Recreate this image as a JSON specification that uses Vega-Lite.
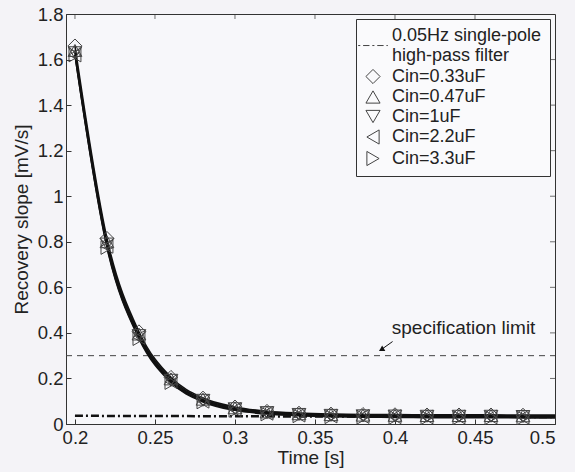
{
  "$schema": "https://vega.github.io/schema/vega-lite/v6.json",
  "width": 489,
  "height": 410,
  "autosize": "none",
  "padding": {"left": 66, "top": 14, "right": 20, "bottom": 48},
  "background": "#f4f3f7",
  "config": {
    "view": {"stroke": "#333", "strokeWidth": 1, "fill": "#f7f7fa"},
    "font": "Liberation Sans",
    "axis": {
      "labelFont": "Liberation Sans",
      "titleFont": "Liberation Sans",
      "labelFontSize": 18.5,
      "titleFontSize": 19,
      "titleFontWeight": "normal",
      "labelColor": "#222",
      "titleColor": "#222",
      "grid": false,
      "domainColor": "#333",
      "tickColor": "#333",
      "tickSize": -5
    }
  },
  "datasets": {
    "curves": [
      {"t": 0.20, "s": 1.66, "c": "Cin=0.33uF"}, {"t": 0.22, "s": 0.815, "c": "Cin=0.33uF"}, {"t": 0.24, "s": 0.405, "c": "Cin=0.33uF"}, {"t": 0.26, "s": 0.205, "c": "Cin=0.33uF"}, {"t": 0.28, "s": 0.114, "c": "Cin=0.33uF"}, {"t": 0.30, "s": 0.075, "c": "Cin=0.33uF"}, {"t": 0.32, "s": 0.056, "c": "Cin=0.33uF"}, {"t": 0.34, "s": 0.048, "c": "Cin=0.33uF"}, {"t": 0.36, "s": 0.044, "c": "Cin=0.33uF"}, {"t": 0.38, "s": 0.042, "c": "Cin=0.33uF"}, {"t": 0.40, "s": 0.041, "c": "Cin=0.33uF"}, {"t": 0.42, "s": 0.040, "c": "Cin=0.33uF"}, {"t": 0.44, "s": 0.040, "c": "Cin=0.33uF"}, {"t": 0.46, "s": 0.040, "c": "Cin=0.33uF"}, {"t": 0.48, "s": 0.039, "c": "Cin=0.33uF"}, {"t": 0.50, "s": 0.039, "c": "Cin=0.33uF"},
      {"t": 0.20, "s": 1.64, "c": "Cin=0.47uF"}, {"t": 0.22, "s": 0.80, "c": "Cin=0.47uF"}, {"t": 0.24, "s": 0.395, "c": "Cin=0.47uF"}, {"t": 0.26, "s": 0.198, "c": "Cin=0.47uF"}, {"t": 0.28, "s": 0.109, "c": "Cin=0.47uF"}, {"t": 0.30, "s": 0.071, "c": "Cin=0.47uF"}, {"t": 0.32, "s": 0.053, "c": "Cin=0.47uF"}, {"t": 0.34, "s": 0.045, "c": "Cin=0.47uF"}, {"t": 0.36, "s": 0.041, "c": "Cin=0.47uF"}, {"t": 0.38, "s": 0.039, "c": "Cin=0.47uF"}, {"t": 0.40, "s": 0.038, "c": "Cin=0.47uF"}, {"t": 0.42, "s": 0.037, "c": "Cin=0.47uF"}, {"t": 0.44, "s": 0.037, "c": "Cin=0.47uF"}, {"t": 0.46, "s": 0.037, "c": "Cin=0.47uF"}, {"t": 0.48, "s": 0.036, "c": "Cin=0.47uF"}, {"t": 0.50, "s": 0.036, "c": "Cin=0.47uF"},
      {"t": 0.20, "s": 1.63, "c": "Cin=1uF"}, {"t": 0.22, "s": 0.79, "c": "Cin=1uF"}, {"t": 0.24, "s": 0.388, "c": "Cin=1uF"}, {"t": 0.26, "s": 0.192, "c": "Cin=1uF"}, {"t": 0.28, "s": 0.104, "c": "Cin=1uF"}, {"t": 0.30, "s": 0.067, "c": "Cin=1uF"}, {"t": 0.32, "s": 0.050, "c": "Cin=1uF"}, {"t": 0.34, "s": 0.042, "c": "Cin=1uF"}, {"t": 0.36, "s": 0.038, "c": "Cin=1uF"}, {"t": 0.38, "s": 0.036, "c": "Cin=1uF"}, {"t": 0.40, "s": 0.035, "c": "Cin=1uF"}, {"t": 0.42, "s": 0.034, "c": "Cin=1uF"}, {"t": 0.44, "s": 0.034, "c": "Cin=1uF"}, {"t": 0.46, "s": 0.034, "c": "Cin=1uF"}, {"t": 0.48, "s": 0.033, "c": "Cin=1uF"}, {"t": 0.50, "s": 0.033, "c": "Cin=1uF"},
      {"t": 0.20, "s": 1.62, "c": "Cin=2.2uF"}, {"t": 0.22, "s": 0.78, "c": "Cin=2.2uF"}, {"t": 0.24, "s": 0.38, "c": "Cin=2.2uF"}, {"t": 0.26, "s": 0.186, "c": "Cin=2.2uF"}, {"t": 0.28, "s": 0.100, "c": "Cin=2.2uF"}, {"t": 0.30, "s": 0.063, "c": "Cin=2.2uF"}, {"t": 0.32, "s": 0.047, "c": "Cin=2.2uF"}, {"t": 0.34, "s": 0.039, "c": "Cin=2.2uF"}, {"t": 0.36, "s": 0.035, "c": "Cin=2.2uF"}, {"t": 0.38, "s": 0.033, "c": "Cin=2.2uF"}, {"t": 0.40, "s": 0.032, "c": "Cin=2.2uF"}, {"t": 0.42, "s": 0.031, "c": "Cin=2.2uF"}, {"t": 0.44, "s": 0.031, "c": "Cin=2.2uF"}, {"t": 0.46, "s": 0.031, "c": "Cin=2.2uF"}, {"t": 0.48, "s": 0.030, "c": "Cin=2.2uF"}, {"t": 0.50, "s": 0.030, "c": "Cin=2.2uF"},
      {"t": 0.20, "s": 1.62, "c": "Cin=3.3uF"}, {"t": 0.22, "s": 0.775, "c": "Cin=3.3uF"}, {"t": 0.24, "s": 0.375, "c": "Cin=3.3uF"}, {"t": 0.26, "s": 0.182, "c": "Cin=3.3uF"}, {"t": 0.28, "s": 0.097, "c": "Cin=3.3uF"}, {"t": 0.30, "s": 0.060, "c": "Cin=3.3uF"}, {"t": 0.32, "s": 0.044, "c": "Cin=3.3uF"}, {"t": 0.34, "s": 0.036, "c": "Cin=3.3uF"}, {"t": 0.36, "s": 0.032, "c": "Cin=3.3uF"}, {"t": 0.38, "s": 0.030, "c": "Cin=3.3uF"}, {"t": 0.40, "s": 0.029, "c": "Cin=3.3uF"}, {"t": 0.42, "s": 0.028, "c": "Cin=3.3uF"}, {"t": 0.44, "s": 0.028, "c": "Cin=3.3uF"}, {"t": 0.46, "s": 0.028, "c": "Cin=3.3uF"}, {"t": 0.48, "s": 0.027, "c": "Cin=3.3uF"}, {"t": 0.50, "s": 0.027, "c": "Cin=3.3uF"}
    ],
    "filter": [{"t": 0.2, "s": 0.036}, {"t": 0.35, "s": 0.033}, {"t": 0.5, "s": 0.031}],
    "limit": [{"t1": 0.1944, "t2": 0.5, "s": 0.3}],
    "note": [{"t": 0.398, "s": 0.42, "label": "specification limit"}],
    "arrow": [{"t1": 0.3985, "s1": 0.362, "t2": 0.3915, "s2": 0.327}],
    "xticks": [{"t": 0.2, "s": 1.8}, {"t": 0.25, "s": 1.8}, {"t": 0.3, "s": 1.8}, {"t": 0.35, "s": 1.8}, {"t": 0.4, "s": 1.8}, {"t": 0.45, "s": 1.8}],
    "yticks": [{"t": 0.5, "s": 0.2}, {"t": 0.5, "s": 0.4}, {"t": 0.5, "s": 0.6}, {"t": 0.5, "s": 0.8}, {"t": 0.5, "s": 1.0}, {"t": 0.5, "s": 1.2}, {"t": 0.5, "s": 1.4}, {"t": 0.5, "s": 1.6}]
  },
  "layer": [
    {
      "data": {"name": "limit"},
      "mark": {"type": "rule", "color": "#444", "strokeWidth": 1, "strokeDash": [6, 5]},
      "encoding": {
        "x": {"field": "t1", "type": "quantitative", "scale": {"domain": [0.1944, 0.5], "nice": false, "zero": false},
              "axis": {"values": [0.2, 0.25, 0.3, 0.35, 0.4, 0.45, 0.5], "format": "~g", "title": "Time [s]", "labelPadding": 9, "titlePadding": 2}},
        "x2": {"field": "t2"},
        "y": {"field": "s", "type": "quantitative", "scale": {"domain": [0, 1.8], "nice": false},
              "axis": {"values": [0, 0.2, 0.4, 0.6, 0.8, 1, 1.2, 1.4, 1.6, 1.8], "format": "~g", "title": "Recovery slope [mV/s]", "labelPadding": 8, "titlePadding": 6}}
      }
    },
    {
      "data": {"name": "xticks"},
      "mark": {"type": "tick", "orient": "vertical", "color": "#333", "size": 5, "thickness": 1, "yOffset": 2.5},
      "encoding": {
        "x": {"field": "t", "type": "quantitative"},
        "y": {"field": "s", "type": "quantitative"}
      }
    },
    {
      "data": {"name": "yticks"},
      "mark": {"type": "tick", "orient": "horizontal", "color": "#333", "size": 5, "thickness": 1, "xOffset": -2.5},
      "encoding": {
        "x": {"field": "t", "type": "quantitative"},
        "y": {"field": "s", "type": "quantitative"}
      }
    },
    {
      "data": {"name": "filter"},
      "mark": {"type": "line", "color": "#111", "strokeWidth": 2.5, "strokeDash": [8, 3, 2, 3]},
      "encoding": {
        "x": {"field": "t", "type": "quantitative"},
        "y": {"field": "s", "type": "quantitative"}
      }
    },
    {
      "data": {"name": "curves"},
      "mark": {"type": "line", "color": "#111", "strokeWidth": 1.6, "interpolate": "monotone"},
      "encoding": {
        "x": {"field": "t", "type": "quantitative"},
        "y": {"field": "s", "type": "quantitative"},
        "detail": {"field": "c"}
      }
    },
    {
      "data": {"name": "curves"},
      "transform": [{"filter": "datum.t < 0.49"}],
      "mark": {"type": "point", "filled": false, "color": "#444", "strokeWidth": 1, "size": 190, "opacity": 1},
      "encoding": {
        "x": {"field": "t", "type": "quantitative"},
        "y": {"field": "s", "type": "quantitative"},
        "shape": {
          "field": "c", "type": "nominal",
          "scale": {
            "domain": ["filter", "Cin=0.33uF", "Cin=0.47uF", "Cin=1uF", "Cin=2.2uF", "Cin=3.3uF"],
            "range": ["M-2.1,1.35H-1.8M-1.4,1.35H-0.5M-0.1,1.35H0.2M0.6,1.35H1.5M1.9,1.35H2.1", "diamond", "triangle-up", "triangle-down", "triangle-left", "triangle-right"]
          },
          "legend": {
            "title": null,
            "orient": "top-right",
            "offset": 5,
            "strokeColor": "#333",
            "fillColor": "#fafafc",
            "padding": 8,
            "labelFont": "Liberation Sans",
            "labelFontSize": 18,
            "labelColor": "#222",
            "symbolSize": 200,
            "symbolStrokeColor": "#444",
            "symbolStrokeWidth": 1,
            "symbolFillColor": "transparent",
            "rowPadding": 1.5,
            "labelOffset": 10,
            "labelExpr": "datum.value == 'filter' ? ['0.05Hz single-pole', 'high-pass filter'] : datum.label",
            "encode": {
              "symbols": {"update": {"strokeWidth": {"signal": "datum.value == 'filter' ? 2.5 : 1"}, "stroke": {"signal": "datum.value == 'filter' ? '#111' : '#444'"}}}
            }
          }
        }
      }
    },
    {
      "data": {"name": "note"},
      "mark": {"type": "text", "align": "left", "baseline": "middle", "fontSize": 19, "font": "Liberation Sans", "color": "#222"},
      "encoding": {
        "x": {"field": "t", "type": "quantitative"},
        "y": {"field": "s", "type": "quantitative"},
        "text": {"field": "label"}
      }
    },
    {
      "data": {"name": "arrow"},
      "mark": {"type": "rule", "color": "#111", "strokeWidth": 1},
      "encoding": {
        "x": {"field": "t1", "type": "quantitative"},
        "y": {"field": "s1", "type": "quantitative"},
        "x2": {"field": "t2"},
        "y2": {"field": "s2"}
      }
    },
    {
      "data": {"name": "arrow"},
      "mark": {"type": "point", "shape": "triangle-up", "filled": true, "color": "#111", "size": 40, "angle": 240, "opacity": 1},
      "encoding": {
        "x": {"field": "t2", "type": "quantitative"},
        "y": {"field": "s2", "type": "quantitative"}
      }
    }
  ]
}
